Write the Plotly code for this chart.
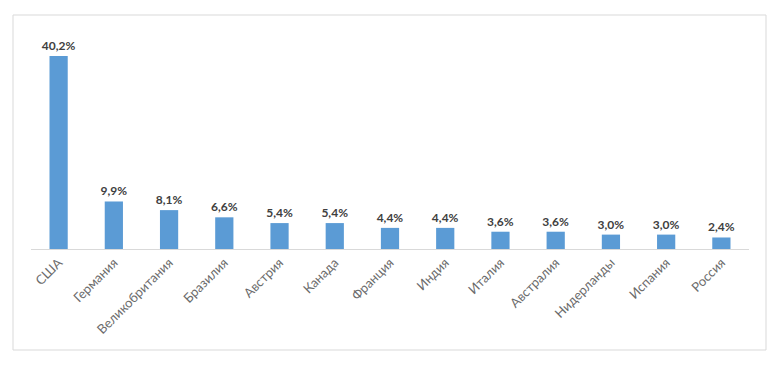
import plotly.graph_objects as go

countries = ["США", "Германия", "Великобритания", "Бразилия", "Австрия", "Канада",
             "Франция", "Индия", "Италия", "Австралия", "Нидерланды", "Испания", "Россия"]
shares = [40.2, 9.9, 8.1, 6.6, 5.4, 5.4, 4.4, 4.4, 3.6, 3.6, 3.0, 3.0, 2.4]
labels = [f"{v:.1f}%".replace(".", ",") for v in shares]

# page body has an 8px margin, so the figure is drawn 8px in from the window edge
OFF = 8
W, H = 780 - OFF, 365 - OFF
L, R, T, B = 31 - OFF, 31, 33 - OFF, 116
pw, ph = W - L - R, H - T - B

def px_x(x):
    return (x - OFF - L) / pw

def px_y(y):
    return (H - B - (y - OFF)) / ph

fig = go.Figure(go.Bar(
    x=countries, y=shares, text=labels, textposition="outside",
    constraintext="none",
    textfont=dict(family="Lato, Open Sans, sans-serif", size=12, color="#404040", weight="bold"),
    marker=dict(color="#5B9BD5", line=dict(width=0)),
    cliponaxis=False,
))

fig.update_layout(
    width=W, height=H,
    margin=dict(l=L, r=R, t=T, b=B, autoexpand=False),
    paper_bgcolor="white", plot_bgcolor="white",
    bargap=0.67, showlegend=False,
    font=dict(family="Lato, Open Sans, sans-serif"),
    shapes=[dict(type="rect", xref="paper", yref="paper",
                 x0=px_x(13), x1=px_x(766), y0=px_y(350), y1=px_y(15),
                 line=dict(color="#d9d9d9", width=1), fillcolor="rgba(0,0,0,0)", layer="below")],
)
fig.update_xaxes(tickangle=-45, showline=True, linecolor="#d9d9d9", linewidth=1,
                 ticks="", showgrid=False, automargin=False,
                 tickfont=dict(family="Lato, Open Sans, sans-serif", size=13, color="#6b6b6b"))
fig.update_yaxes(range=[0, 45], visible=False, showgrid=False, zeroline=False, automargin=False)

fig.write_html("out.html")
